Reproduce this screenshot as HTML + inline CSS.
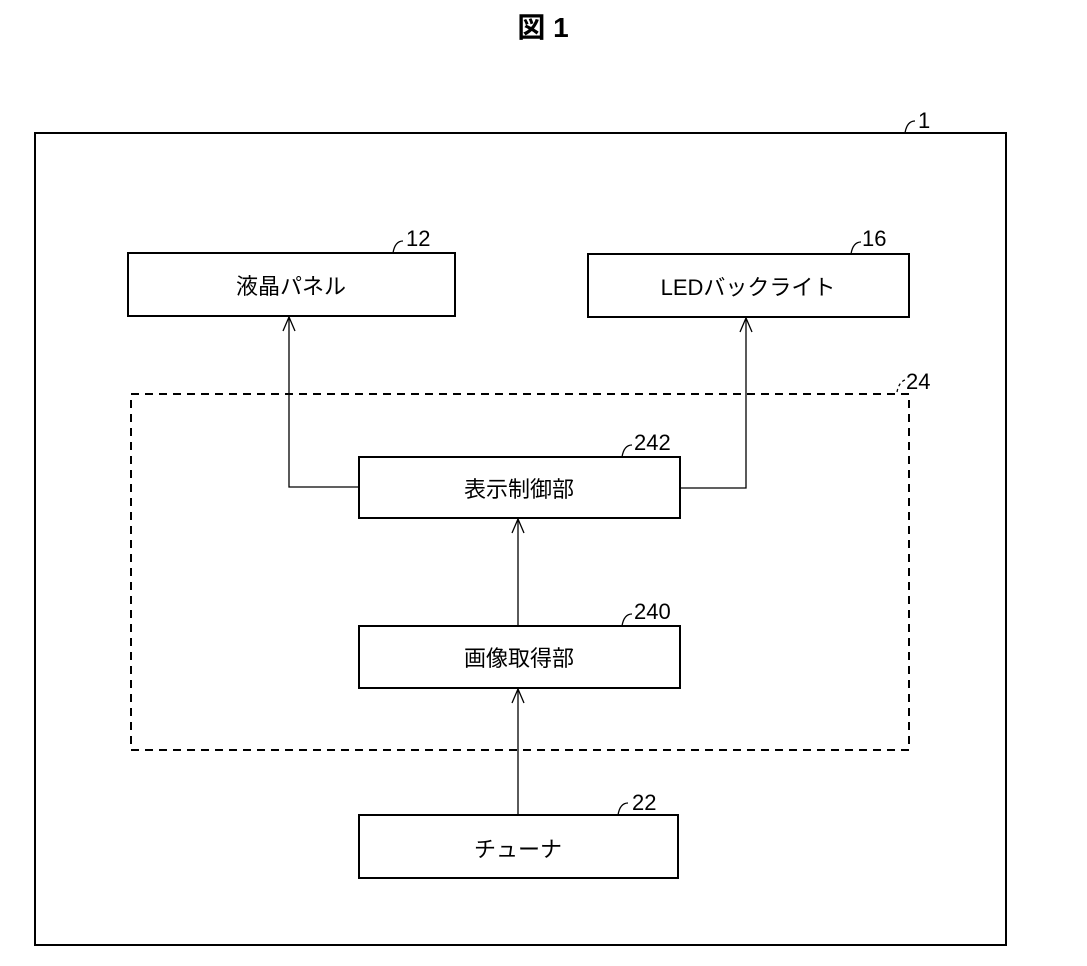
<!DOCTYPE html>
<html><head><meta charset="utf-8"><style>
body{margin:0;background:#fff;}
svg text{font-family:"Liberation Sans","Noto Sans CJK JP",sans-serif;fill:#000;}
</style></head><body>
<svg width="1087" height="961" viewBox="0 0 1087 961" xmlns="http://www.w3.org/2000/svg">
<text x="543" y="37" font-size="28" font-weight="bold" text-anchor="middle">図 1</text>
<rect x="35" y="133" width="971" height="812" fill="none" stroke="#000" stroke-width="2"/>
<path d="M905,133 q2,-12 10,-12" fill="none" stroke="#000" stroke-width="1.3"/>
<text x="918" y="128" font-size="22">1</text>
<rect x="128" y="253" width="327" height="63" fill="none" stroke="#000" stroke-width="2"/>
<text x="291" y="294" font-size="22" text-anchor="middle">液晶パネル</text>
<path d="M393,253 q2,-12 10,-12" fill="none" stroke="#000" stroke-width="1.3"/>
<text x="406" y="246" font-size="22">12</text>
<rect x="588" y="254" width="321" height="63" fill="none" stroke="#000" stroke-width="2"/>
<text x="748" y="295" font-size="22" text-anchor="middle">LEDバックライト</text>
<path d="M851,254 q2,-12 10,-12" fill="none" stroke="#000" stroke-width="1.3"/>
<text x="862" y="246" font-size="22">16</text>
<rect x="131" y="394" width="778" height="356" fill="none" stroke="#000" stroke-width="2" stroke-dasharray="8,6"/>
<path d="M897,392 q2,-10 8,-12" fill="none" stroke="#000" stroke-width="1.3" stroke-dasharray="3,3"/>
<text x="906" y="389" font-size="22">24</text>
<rect x="359" y="457" width="321" height="61" fill="none" stroke="#000" stroke-width="2"/>
<text x="519" y="497" font-size="22" text-anchor="middle">表示制御部</text>
<path d="M622,457 q2,-12 10,-12" fill="none" stroke="#000" stroke-width="1.3"/>
<text x="634" y="450" font-size="22">242</text>
<rect x="359" y="626" width="321" height="62" fill="none" stroke="#000" stroke-width="2"/>
<text x="519" y="666" font-size="22" text-anchor="middle">画像取得部</text>
<path d="M622,626 q2,-12 10,-12" fill="none" stroke="#000" stroke-width="1.3"/>
<text x="634" y="619" font-size="22">240</text>
<rect x="359" y="815" width="319" height="63" fill="none" stroke="#000" stroke-width="2"/>
<text x="518" y="857" font-size="22" text-anchor="middle">チューナ</text>
<path d="M618,815 q2,-12 10,-12" fill="none" stroke="#000" stroke-width="1.3"/>
<text x="632" y="810" font-size="22">22</text>
<g fill="none" stroke="#000" stroke-width="1.3">
<path d="M359,487 H289 V317"/><path d="M283,331 L289,317 L295,331"/>
<path d="M680,488 H746 V318"/><path d="M740,332 L746,318 L752,332"/>
<path d="M518,626 V519"/><path d="M512,533 L518,519 L524,533"/>
<path d="M518,815 V689"/><path d="M512,703 L518,689 L524,703"/>
</g>
</svg>
</body></html>
